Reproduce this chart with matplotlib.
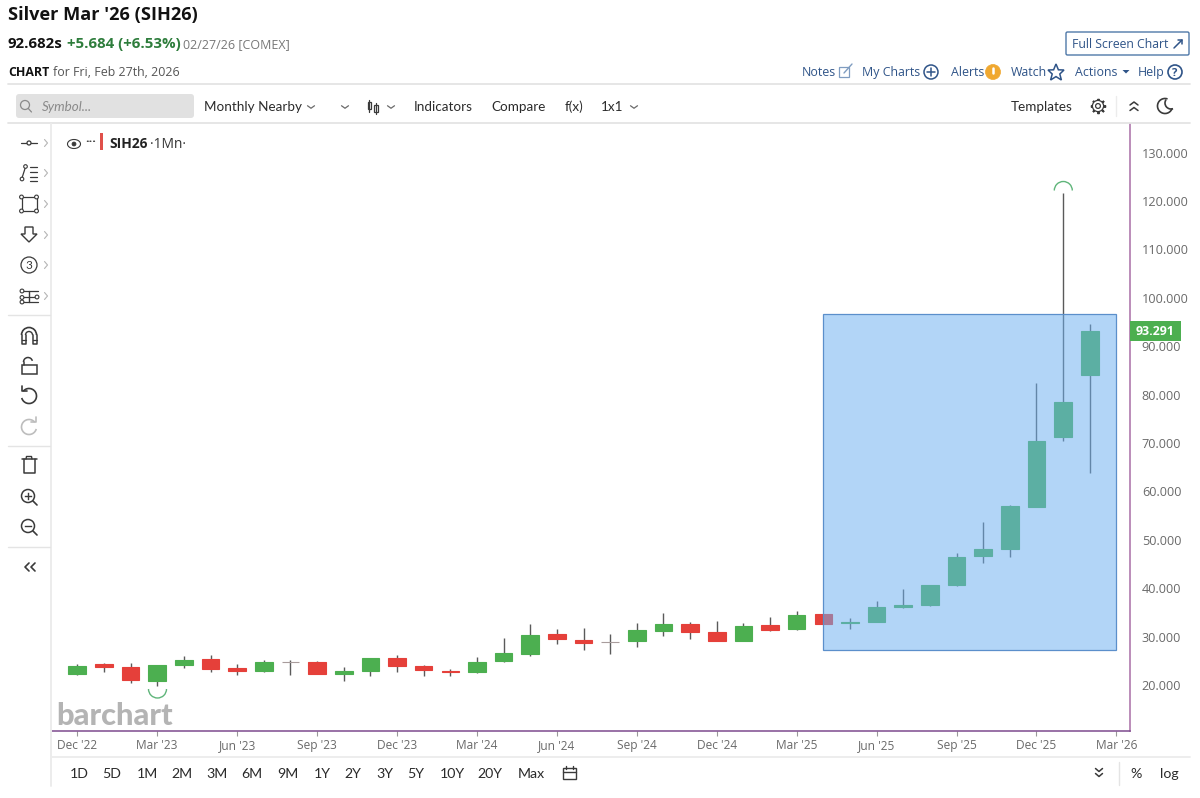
#!/usr/bin/env python3
"""Silver Mar '26 monthly candles, barchart style page"""

import matplotlib
matplotlib.use("Agg")
import matplotlib.pyplot as plt
from matplotlib.patches import Rectangle, FancyBboxPatch, Circle, Arc, Polygon

W, H = 1200, 798

# months since Dec '22
opens = [22.27, 24.28, 23.66, 20.83, 24.13, 25.30, 23.45, 22.83, 24.84, 24.69, 22.20, 22.83, 25.58, 23.93,
         22.95, 22.75, 24.96, 26.40, 30.47, 29.36, 28.98, 29.10, 31.20, 32.67, 31.00, 29.10, 32.33, 31.57,
         34.60, 32.75, 32.95, 36.18, 36.60, 40.60, 46.65, 48.10, 56.84, 71.24, 84.10]
closes = [23.93, 23.66, 20.97, 24.07, 25.10, 23.37, 22.83, 24.80, 24.76, 22.33, 22.83, 25.50, 23.93, 23.04,
          22.75, 24.80, 26.55, 30.33, 29.44, 28.74, 28.93, 31.30, 32.67, 30.95, 29.10, 32.10, 31.36, 34.46,
          32.67, 32.95, 36.05, 36.53, 40.60, 46.50, 48.04, 57.05, 70.47, 78.40, 93.08]
highs = [24.30, 24.50, 24.60, 24.20, 26.05, 26.26, 24.40, 25.20, 25.20, 25.00, 23.66, 25.55, 26.10, 24.13,
         23.40, 25.85, 29.80, 32.60, 31.50, 31.84, 30.47, 32.87, 34.94, 33.00, 33.16, 32.75, 34.05, 35.35,
         34.60, 33.78, 37.28, 39.77, 40.70, 47.20, 53.60, 57.10, 82.46, 121.60, 94.50]
lows = [22.07, 22.75, 20.40, 19.80, 23.57, 22.70, 22.13, 22.60, 22.13, 22.20, 20.76, 21.80, 22.70, 21.90,
        21.90, 22.55, 24.75, 26.05, 28.53, 27.23, 26.34, 27.90, 30.20, 29.57, 29.10, 29.10, 31.20, 31.40,
        32.67, 31.63, 32.95, 35.90, 36.26, 40.40, 45.27, 46.40, 56.80, 70.35, 63.74]

x_tick_months = [0, 3, 6, 9, 12, 15, 18, 21, 24, 27, 30, 33, 36, 39]
x_tick_labels = ["Dec '22", "Mar '23", "Jun '23", "Sep '23", "Dec '23", "Mar '24", "Jun '24",
                 "Sep '24", "Dec '24", "Mar '25", "Jun '25", "Sep '25", "Dec '25", "Mar '26"]
y_ticks = [20, 30, 40, 50, 60, 70, 80, 90, 100, 110, 120, 130]

# the blue box the user drew on the chart
box_months = [28.0, 39.0]
box_prices = [27.23, 96.65]

periods = ["1D", "5D", "1M", "2M", "3M", "6M", "9M", "1Y", "2Y", "3Y", "5Y", "10Y", "20Y", "Max"]
period_x = [79, 112, 147, 182, 217, 252, 288, 322, 353, 385, 416, 452, 490, 531]

GREEN = "#4caf50"
RED = "#e5403a"
WICK = "#5a5a5a"
LINK = "#2f5488"
DARK = "#2b2b2b"
ICON = "#3a3a3a"
GREY = "#6a6a6a"

fig = plt.figure(figsize=(W / 100, H / 100), dpi=100, facecolor="white")

# chart area, 52..1130 x 124..731 in pixels
ax = fig.add_axes([52 / W, 1 - 731 / H, (1130 - 52) / W, (731 - 124) / H])
ax.set_xlim(-0.949, 39.51)
ax.set_ylim(10.5, 135.9)

for i in range(len(opens)):
    o, c = opens[i], closes[i]
    if abs(c - o) < 0.1:
        col = "#a89c9c"
    else:
        col = GREEN if c > o else RED
    ax.vlines(i, lows[i], highs[i], color=WICK, lw=1.0, zorder=2)
    ax.bar(i, abs(c - o), bottom=min(o, c), width=0.66, color=col, edgecolor=col, lw=0.8, zorder=3)

ax.add_patch(Rectangle((box_months[0], box_prices[0]), box_months[1] - box_months[0],
                       box_prices[1] - box_prices[0], facecolor=(0.424, 0.686, 0.941, 0.52),
                       edgecolor="#5b8fcb", lw=0.9, zorder=4))

for s in ["top", "left"]:
    ax.spines[s].set_visible(False)
ax.spines["bottom"].set_color("#7d4a8e")
ax.spines["right"].set_color("#b583b3")
ax.spines["bottom"].set_linewidth(1.1)
ax.spines["right"].set_linewidth(1.3)

ax.set_xticks(x_tick_months)
ax.set_xticklabels(x_tick_labels)
ax.set_yticks(y_ticks)
ax.set_yticklabels([f"{v:.3f}" for v in y_ticks])
ax.yaxis.tick_right()
ax.tick_params(axis="y", length=0, pad=8.5, labelsize=9.1, labelcolor=GREY, labelfontfamily="Open Sans")
ax.tick_params(axis="x", length=3.5, width=0.8, color="#999999", pad=2.5, labelsize=8.6, labelcolor=GREY,
               labelfontfamily="Open Sans")

# everything else on the page, in pixel coordinates
pg = fig.add_axes([0, 0, 1, 1], facecolor="none")
pg.set_xlim(0, W)
pg.set_ylim(H, 0)
pg.axis("off")


def label(x, y, s, size=10, color=DARK, weight="normal", ha="left", family="Open Sans", style="normal"):
    # y is the middle of the capitals, so descenders do not shift the line
    pg.text(x, y + 0.5 * size, s, fontsize=size, color=color, fontweight=weight, ha=ha, va="baseline",
            family=family, fontstyle=style)


def line(xs, ys, color=ICON, lw=1.1):
    pg.plot(xs, ys, color=color, lw=lw, solid_capstyle="round", solid_joinstyle="round")


def circle(x, y, r, color=ICON, lw=1.1, fill="none"):
    pg.add_patch(Circle((x, y), r, facecolor=fill, edgecolor=color, lw=lw, zorder=3))


def chev_down(x, y, color=GREY, w=3.5, h=2.5, lw=0.9):
    line([x - w, x, x + w], [y - h / 2, y + h / 2, y - h / 2], color, lw)


def chev_up(x, y, color=ICON, w=4, h=3, lw=1.1):
    line([x - w, x, x + w], [y + h / 2, y - h / 2, y + h / 2], color, lw)


def chev_right(x, y, color="#b5b5b5"):
    line([x - 1.5, x + 1.5, x - 1.5], [y - 3.5, y, y + 3.5], color, 0.8)


# page separators
for y0 in [84, 123]:
    line([8, 1190], [y0, y0], "#e4e4e4", 1.3)
line([51, 51], [124, 786], "#ececec", 1.4)
line([52, 1190], [757, 757], "#ececec", 1.3)
for y0 in [315, 446, 547]:
    line([8, 50], [y0, y0], "#e4e4e4", 1.0)
line([1116, 1116], [96, 116], "#ececec", 1.0)
line([1119, 1119], [762, 785], "#e4e4e4", 1.0)

# header
label(8, 13, "Silver Mar '26 (SIH26)", 13.1, "#111111", "bold")
label(8, 43, "92.682s", 10.8, "#111111", "bold")
label(67, 43, "+5.684 (+6.53%)", 10.8, "#2e7d3c", "bold")
label(183, 44, "02/27/26 [COMEX]", 9.0, "#777777")
label(8, 72, "CHART", 8.9, "#111111", "bold")
label(53, 72, "for Fri, Feb 27th, 2026", 8.9, "#555555")

# full screen button
pg.add_patch(FancyBboxPatch((1066, 32), 123, 23, boxstyle="round,pad=0,rounding_size=1.5",
                            facecolor="white", edgecolor="#4f78a8", lw=1.0))
label(1072, 44, "Full Screen Chart", 8.8, LINK)
line([1174, 1182], [48, 40], LINK, 1.1)
line([1178, 1182, 1182], [40, 40, 44], LINK, 1.1)

# links row
label(802, 72, "Notes", 8.9, LINK)
pg.add_patch(Rectangle((839, 67), 10, 10, facecolor="none", edgecolor="#7f9cc0", lw=0.9))
line([844, 852], [73, 64], "#7f9cc0", 1.0)
label(862, 72, "My Charts", 8.9, LINK)
circle(931, 72, 7, LINK, 1.1)
line([927, 935], [72, 72], LINK, 1.1)
line([931, 931], [68, 76], LINK, 1.1)
label(951, 72, "Alerts", 8.9, LINK)
circle(993, 72, 7.5, "#f0a830", 0.5, "#f0a830")
pg.plot([993, 993], [68, 73], color="white", lw=1.8, solid_capstyle="round", zorder=4)
pg.plot([993, 993], [76, 76.2], color="white", lw=1.8, solid_capstyle="round", zorder=4)
label(1011, 72, "Watch", 8.9, LINK)
pg.add_patch(Polygon([(1056, 64), (1058.4, 69.8), (1064, 70), (1059.8, 74), (1061.4, 80), (1056, 76.6),
                      (1050.6, 80), (1052.2, 74), (1048, 70), (1053.6, 69.8)], closed=True,
                     facecolor="none", edgecolor=LINK, lw=1.1))
label(1075, 72, "Actions", 8.9, LINK)
pg.add_patch(Polygon([(1122.5, 70), (1129.5, 70), (1126, 73.5)], closed=True, facecolor=LINK, edgecolor="none"))
label(1138, 72, "Help", 8.9, LINK)
circle(1175, 72, 7, LINK, 1.2)
label(1175, 72, "?", 8.2, LINK, "bold", ha="center")

# toolbar
pg.add_patch(FancyBboxPatch((16, 94), 178, 24, boxstyle="round,pad=0,rounding_size=3",
                            facecolor="#e1e1e1", edgecolor="none"))
circle(25, 105, 4.5, "#8a8a8a", 0.9)
line([28.3, 31.5], [108.5, 112], "#8a8a8a", 0.9)
label(42, 106, "Symbol...", 9.6, "#8a8a8a", family="Lato", style="italic")
label(204, 106, "Monthly Nearby", 9.7, DARK, family="Lato")
chev_down(311, 107)
chev_down(345, 107)
pg.add_patch(Rectangle((367.5, 102), 3.5, 7, facecolor="none", edgecolor=ICON, lw=0.9))
line([369.2, 369.2], [99.5, 111.5], ICON, 0.9)
pg.add_patch(Rectangle((374, 105), 3.5, 7, facecolor="none", edgecolor=ICON, lw=0.9))
line([375.7, 375.7], [102.5, 114], ICON, 0.9)
chev_down(391, 107)
label(414, 106, "Indicators", 9.7, DARK, family="Lato")
label(491, 106, "Compare", 9.7, DARK, family="Lato")
label(565, 106, "f(x)", 9.7, DARK, family="Lato")
label(601, 106, "1x1", 9.7, DARK, family="Lato")
chev_down(634, 107)
label(1011, 106, "Templates", 9.7, DARK, family="Lato")

# gear: spokes covered by a white disc, then the rings
pg.plot([1098], [106], marker=(8, 2, 0), ms=11, mew=1.4, color=ICON)
circle(1098, 106, 5.6, ICON, 0.9, "white")
circle(1098, 106, 2.4, ICON, 0.9)
chev_up(1134, 103.5)
chev_up(1134, 109)
pg.add_patch(Arc((1165, 106), 15, 15, theta1=20, theta2=290, color=ICON, lw=1.2))
pg.add_patch(Arc((1171, 103), 12, 12, theta1=70, theta2=215, color=ICON, lw=1.2))

# left drawing tools
line([21, 37], [143, 143], ICON, 0.9)
circle(29, 143, 2, ICON, 0.9, "white")
chev_right(46, 143)

line([22, 25.5], [178, 167], ICON, 0.9)
circle(22, 179, 1.8, ICON, 0.8, "white")
circle(25.5, 166.5, 1.8, ICON, 0.8, "white")
for y0 in [167, 172, 177, 181]:
    line([30, 37], [y0, y0], ICON, 0.9)
chev_right(46, 173)

pg.add_patch(Rectangle((21.5, 197), 15, 14, facecolor="none", edgecolor=ICON, lw=0.9))
for px, py in [(21.5, 197), (36.5, 197), (21.5, 211), (36.5, 211)]:
    circle(px, py, 1.9, ICON, 0.8, "white")
chev_right(46, 204)

pg.add_patch(Polygon([(25, 227), (33, 227), (33, 234), (37, 234), (29, 242), (21, 234), (25, 234)], closed=True,
                     facecolor="none", edgecolor=ICON, lw=1.0))
chev_right(46, 235)

circle(29, 265, 8, ICON, 0.9)
label(29, 265, "3", 8.5, ICON, ha="center", family="Lato")
chev_right(46, 265)

for y0, x0, x1 in [(291, 21, 38), (297, 21, 36), (302, 21, 38)]:
    line([x0, x1], [y0, y0], ICON, 0.9)
for px, py in [(22, 291), (22, 297.5), (22, 302), (37, 297)]:
    circle(px, py, 1.9, ICON, 0.8, "white")
line([29, 29], [291, 302], ICON, 1.0)
chev_right(46, 296)

# magnet
pg.add_patch(Arc((29, 335), 15, 15, theta1=180, theta2=360, color=ICON, lw=1.2))
pg.add_patch(Arc((29, 335), 7, 7, theta1=180, theta2=360, color=ICON, lw=1.0))
line([21.5, 21.5, 25.5, 25.5], [335, 344, 344, 335], ICON, 1.1)
line([36.5, 36.5, 32.5, 32.5], [335, 344, 344, 335], ICON, 1.1)
line([21.5, 25.5], [340, 340], ICON, 0.9)
line([32.5, 36.5], [340, 340], ICON, 0.9)

# open lock
pg.add_patch(Rectangle((21.5, 365), 15, 9, facecolor="none", edgecolor=ICON, lw=1.1))
pg.add_patch(Arc((28, 362), 9, 9, theta1=180, theta2=345, color=ICON, lw=1.1))
line([23.5, 23.5], [362, 365], ICON, 1.1)

# undo, redo
pg.add_patch(Arc((29, 396), 15, 15, theta1=-140, theta2=165, color=ICON, lw=1.2))
line([22, 22, 27], [386, 391, 391], ICON, 1.2)
pg.add_patch(Arc((29, 427), 15, 15, theta1=15, theta2=320, color="#bdbdbd", lw=1.2))
line([36, 36, 31], [417, 422, 422], "#bdbdbd", 1.2)

# trash
line([21.5, 36.5], [459, 459], ICON, 1.1)
line([26, 26.5, 31.5, 32], [459, 456.5, 456.5, 459], ICON, 1.0)
line([23.5, 23.5, 34.5, 34.5], [459, 473, 473, 459], ICON, 1.1)

# zoom in, zoom out
for y0 in [496, 526]:
    circle(28, y0, 6.5, ICON, 1.1)
    line([33, 37], [y0 + 5, y0 + 9], ICON, 1.2)
    pg.plot([25, 31], [y0, y0], color=ICON, lw=1.0, zorder=4)
pg.plot([28, 28], [493, 499], color=ICON, lw=1.0, zorder=4)

# collapse
line([29, 25, 29], [563, 567, 571], ICON, 1.2)
line([35, 31, 35], [563, 567, 571], ICON, 1.2)

# legend tag on the chart
pg.add_patch(Arc((74, 144), 13, 9, color=ICON, lw=0.8))
circle(74, 144, 2, ICON, 0.5, ICON)
label(91, 138, "...", 9, ICON, "bold", ha="center")
pg.add_patch(Rectangle((100, 133), 3, 17, facecolor="#e0504a", edgecolor="none"))
label(109, 143, "SIH26", 9.9, "#222222", "bold")
label(150, 143, "·1Mn·", 9.9, "#333333")

# high and low arcs, price tag, logo
pg.add_patch(Arc((1063.3, 190.5), 18, 18, theta1=180, theta2=360, color="#5fb57a", lw=1.0))
pg.add_patch(Arc((157.5, 689), 18, 18, theta1=0, theta2=180, color="#5fb57a", lw=1.0))
pg.add_patch(Rectangle((1130, 321), 51, 20, facecolor=GREEN, edgecolor="none"))
label(1155.5, 330.5, "93.291", 8.9, "white", "bold", ha="center")
label(56, 714, "barchart", 22.2, "#b4b4b4", "black", family="Lato")

# range buttons
for s, px in zip(periods, period_x):
    label(px, 773, s, 10.2, DARK, ha="center", family="Lato")
pg.add_patch(Rectangle((563, 768), 13, 11, facecolor="none", edgecolor=ICON, lw=1.0))
line([563, 576], [772, 772], ICON, 1.0)
line([566, 566], [765.5, 769], ICON, 1.0)
line([573, 573], [765.5, 769], ICON, 1.0)
chev_down(1099, 770, ICON, 3.5, 3, 1.1)
chev_down(1099, 775, ICON, 3.5, 3, 1.1)
label(1136, 773, "%", 10.2, DARK, ha="center", family="Lato")
label(1169, 773, "log", 10.2, DARK, ha="center", family="Lato")

fig.savefig("out.png", dpi=100)
